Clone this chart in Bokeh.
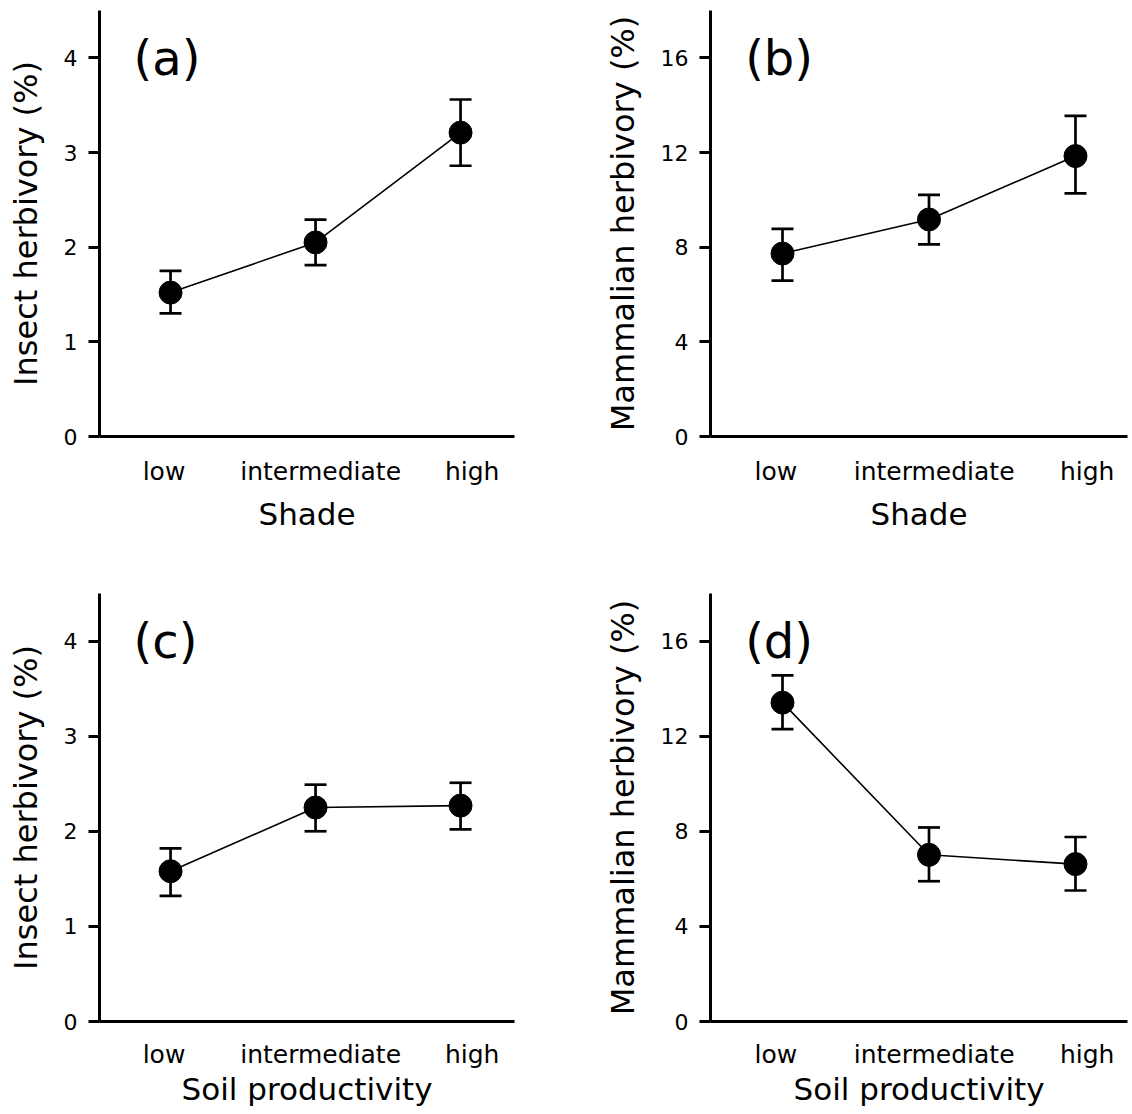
from bokeh.plotting import figure
from bokeh.models import ColumnDataSource, Whisker, TeeHead, FixedTicker, Range1d, Label
from bokeh.layouts import column, row
from bokeh.embed import file_html
from bokeh.resources import INLINE

# ---------------- data ----------------
categories = ["low", "intermediate", "high"]

a_mean = [1.52, 2.05, 3.21]
a_lo = [1.30, 1.81, 2.86]
a_hi = [1.75, 2.29, 3.56]

b_mean = [7.73, 9.17, 11.85]
b_lo = [6.59, 8.12, 10.27]
b_hi = [8.77, 10.21, 13.55]

c_mean = [1.58, 2.25, 2.27]
c_lo = [1.32, 2.00, 2.02]
c_hi = [1.82, 2.49, 2.51]

d_mean = [13.41, 7.01, 6.62]
d_lo = [12.30, 5.90, 5.51]
d_hi = [14.56, 8.16, 7.76]

insect_ticks = [0, 1, 2, 3, 4]
mammal_ticks = [0, 4, 8, 12, 16]

FONT = "DejaVu Sans"


def make_panel(mean, lo, hi, ymax, yticks, ylabel, xlabel, letter, letter_y,
               width, height, mbl, mbr, mbt, mbb, xr, tick_standoff, lab_standoff):
    xs = list(range(1, len(categories) + 1))
    src = ColumnDataSource(dict(x=xs, mean=mean, lo=lo, hi=hi))
    p = figure(width=width, height=height, output_backend="svg", toolbar_location=None,
               x_range=Range1d(*xr), y_range=Range1d(0, ymax),
               min_border_left=mbl, min_border_right=mbr,
               min_border_top=mbt, min_border_bottom=mbb)
    p.outline_line_color = None
    p.grid.visible = False
    p.background_fill_color = "white"
    p.border_fill_color = "white"

    p.line("x", "mean", source=src, line_color="black", line_width=1.6)
    w = Whisker(source=src, base="x", upper="hi", lower="lo",
                line_color="black", line_width=2.7,
                upper_head=TeeHead(size=22, line_color="black", line_width=2.7),
                lower_head=TeeHead(size=22, line_color="black", line_width=2.7))
    p.add_layout(w)
    p.scatter("x", "mean", source=src, size=23, fill_color="black", line_color="black")

    # axes
    label_ticks = [x + off for x, off in zip(xs, [-0.045, 0.035, 0.08])]
    p.xaxis.ticker = FixedTicker(ticks=label_ticks)
    p.xaxis.major_label_overrides = {t: c for t, c in zip(label_ticks, categories)}
    p.xaxis.minor_tick_line_color = None
    p.xaxis.major_tick_out = 0
    p.xaxis.major_tick_in = 0
    p.xaxis.major_label_text_font_size = "25px"
    p.xaxis.major_label_standoff = tick_standoff
    p.xaxis.axis_label = xlabel
    p.xaxis.axis_label_text_font_size = "31px"
    p.xaxis.axis_label_standoff = lab_standoff

    p.yaxis.ticker = FixedTicker(ticks=yticks)
    p.yaxis.minor_tick_line_color = None
    p.yaxis.major_tick_out = 11
    p.yaxis.major_tick_in = 0
    p.yaxis.major_tick_line_width = 3
    p.yaxis.major_label_text_font_size = "22px"
    p.yaxis.major_label_standoff = 11
    p.yaxis.axis_label = ylabel
    p.yaxis.axis_label_text_font_size = "32px"
    p.yaxis.axis_label_standoff = 16

    for ax in (p.xaxis, p.yaxis):
        ax.axis_line_width = 3
        ax.axis_line_color = "black"
        ax.major_label_text_font = FONT
        ax.major_label_text_color = "black"
        ax.axis_label_text_font = FONT
        ax.axis_label_text_font_style = "normal"
        ax.axis_label_text_color = "black"
    p.xaxis.major_tick_line_color = None
    p.yaxis.major_tick_line_color = "black"

    p.add_layout(Label(x=0.745, y=letter_y, text=letter, text_font=FONT,
                       text_font_size="48px", text_color="black",
                       text_baseline="alphabetic"))
    return p


left_xr = (0.51, 3.372)
right_xr = (0.5085, 3.355)

# left column: frame x 99..514 ; right column: frame x 710..1127
# top row: frame y 10..436 ; bottom row: frame y 593..1021
pa = make_panel(a_mean, a_lo, a_hi, 4.5, insect_ticks, "Insect herbivory (%)", "Shade", "(a)", 4.0,
                580, 583, 99, 66, 10, 147, left_xr, 20, 7)
pb = make_panel(b_mean, b_lo, b_hi, 18, mammal_ticks, "Mammalian herbivory (%)", "Shade", "(b)", 16.0,
                552, 583, 130, 5, 10, 147, right_xr, 20, 7)
pc = make_panel(c_mean, c_lo, c_hi, 4.5, insect_ticks, "Insect herbivory (%)", "Soil productivity", "(c)", 4.0,
                580, 531, 99, 66, 10, 93, left_xr, 18, -1)
pd = make_panel(d_mean, d_lo, d_hi, 18, mammal_ticks, "Mammalian herbivory (%)", "Soil productivity", "(d)", 16.0,
                552, 531, 130, 5, 10, 93, right_xr, 18, -1)

layout = column(row(pa, pb), row(pc, pd))
open("out.html", "w").write(file_html(layout, INLINE))
